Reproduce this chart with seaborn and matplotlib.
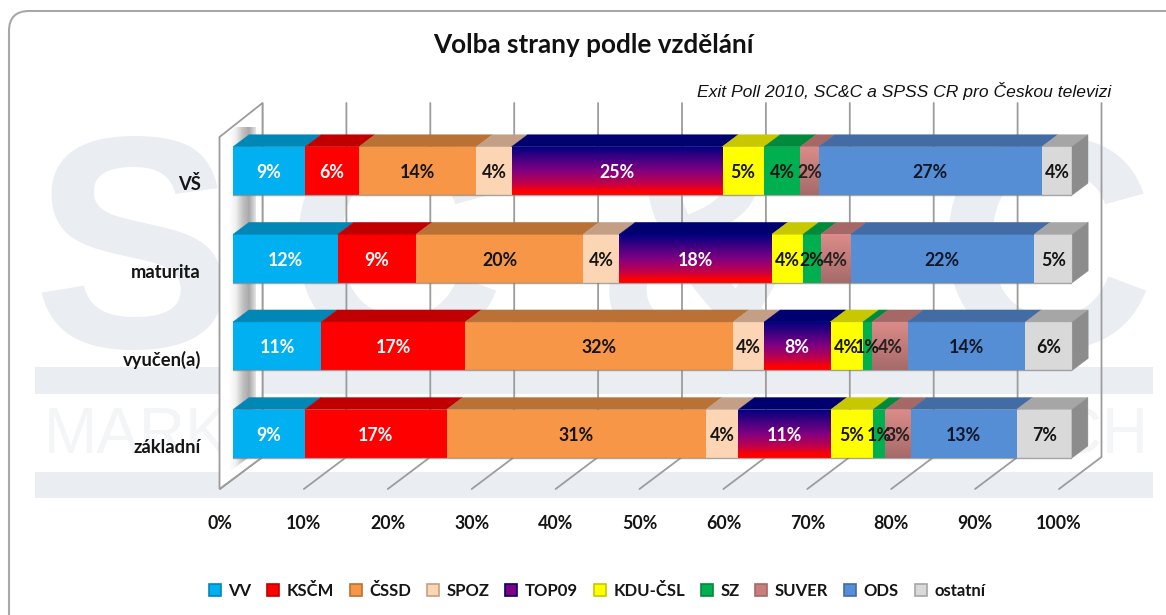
import numpy as np
import matplotlib
matplotlib.use('Agg')
import matplotlib.pyplot as plt
from matplotlib.colors import LinearSegmentedColormap
from matplotlib.patches import FancyBboxPatch, Patch, Polygon, Rectangle
import seaborn as sns

levels = ['VŠ', 'maturita', 'vyučen(a)', 'základní']
parties = ['VV', 'KSČM', 'ČSSD', 'SPOZ', 'TOP09', 'KDU-ČSL', 'SZ', 'SUVER', 'ODS', 'ostatní']

# share of each party per education level, read from the segment edges
vv = [8.6, 12.48, 10.52, 8.55]
kscm = [6.4, 9.33, 17.16, 16.9]
cssd = [14.0, 19.9, 31.9, 30.9]
spoz = [4.2, 4.33, 3.73, 3.9]
top09 = [25.1, 18.16, 7.87, 11.0]
kdu = [5.0, 3.73, 3.9, 5.04]
sz = [4.3, 2.11, 1.11, 1.48]
suver = [2.2, 3.55, 4.2, 3.02]
ods = [26.6, 21.9, 14.06, 12.6]
ostatni = [3.6, 4.53, 5.57, 6.6]
series = [vv, kscm, cssd, spoz, top09, kdu, sz, suver, ods, ostatni]

x_ticks = [0, 10, 20, 30, 40, 50, 60, 70, 80, 90, 100]

front_colors = ['#00b0f0', '#ff0000', '#f79646', '#fcd5b4', '#800080', '#ffff00',
                '#00b050', '#c77f7d', '#558ed5', '#d9d9d9']
top_colors = ['#0087b5', '#c00000', '#b97135', '#c3a085', '#00006e', '#c8c800',
              '#008a3e', '#a56866', '#426ca3', '#a6a6a6']
label_colors = ['white', 'white', '#151515', '#151515', 'white', '#151515',
                '#151515', '#2a2020', '#10182a', '#151515']
WATERMARK = '#eaeef3'
GRID = '#9c9c9c'

W, H = 1166, 615
# pixel box of the front plane: 0-100 % on x, four category rows on y
LEFT, RIGHT = 233, 1072
TOP, BOTTOM = 127.2, 477.6
AX_LEFT = 212  # the axes start a bit left of 0 % so the shifted 0% tick label survives
PX_PCT = (RIGHT - LEFT) / 100
PX_ROW = (BOTTOM - TOP) / 4


def to_x(px):
    return (px - LEFT) / PX_PCT


def to_y(py):
    return (py - TOP) / PX_ROW - 0.5


sns.set_theme(style='white')
plt.rcParams['font.family'] = ['Lato', 'DejaVu Sans']

fig = plt.figure(figsize=(W / 100, H / 100), dpi=100, facecolor='white')

# background layer in pixels: frame and SC&C watermark
bg = fig.add_axes([0, 0, 1, 1])
bg.set_xlim(0, W)
bg.set_ylim(H, 0)
bg.axis('off')
bg.add_patch(FancyBboxPatch((9, 11), W + 60, H + 10, boxstyle='round,pad=0,rounding_size=20',
                            fc='white', ec='#a8a8a8', lw=1.5))
for letter, xc in zip('SC&C', [133, 395, 705, 1045]):
    bg.text(xc, 237, letter, color=WATERMARK, fontsize=218, fontweight='bold',
            family='Liberation Sans', ha='center', va='center_baseline')
bg.add_patch(Rectangle((35, 367), 1118, 27, fc=WATERMARK, ec='none'))
bg.add_patch(Rectangle((35, 472), 1118, 26, fc=WATERMARK, ec='none'))
bg.text(44, 436, 'MARKET', color='#f4f5f7', fontsize=46, family='Liberation Sans', ha='left', va='center')
bg.text(1149, 436, 'RESEARCH', color='#f4f5f7', fontsize=46, family='Liberation Sans', ha='right', va='center')

bg.text(593, 45, 'Volba strany podle vzdělání', fontsize=18.8, fontweight='bold',
        color='#111111', ha='center', va='center')
bg.text(1111, 91, 'Exit Poll 2010, SC&C a SPSS CR pro Českou televizi', fontsize=12.6,
        style='italic', family='Liberation Sans', color='#111111', ha='right', va='center')

ax = fig.add_axes([AX_LEFT / W, 1 - BOTTOM / H, (RIGHT - AX_LEFT) / W, (BOTTOM - TOP) / H])
ax.patch.set_alpha(0)

# stacked bars
lefts = np.zeros(len(levels))
segments = []
for name, vals, color in zip(parties, series, front_colors):
    sns.barplot(x=vals, y=levels, left=lefts, color=color, saturation=1, width=48.5 / PX_ROW,
                orient='h', errorbar=None, ax=ax, zorder=3, linewidth=0)
    segments.append(ax.containers[-1])
    lefts = lefts + np.array(vals)

depth_x = 16 / PX_PCT
depth_y = 12 / PX_ROW

# grid on the back wall and floor
back_shift = to_x(262.5)
front_shift = to_x(220)
top_y, back_floor, front_floor = to_y(103), to_y(457), to_y(489)
for t in x_ticks:
    ax.plot([t + back_shift, t + back_shift, t + front_shift], [top_y, back_floor, front_floor],
            color=GRID, lw=1.3, clip_on=False, zorder=1)

# side wall with its soft grey shading
wall = Polygon([(to_x(219.5), to_y(137)), (to_x(262.5), to_y(103)), (to_x(262.5), back_floor),
                (to_x(219.5), front_floor)], closed=True, fc='white', ec=GRID, lw=1.3,
               clip_on=False, zorder=1.2)
ax.add_patch(wall)
wall_cmap = LinearSegmentedColormap.from_list('wall', ['#ffffff', '#f0f0f0', '#c4c4c4', '#a8a8a8', '#e4e4e4'])
shade_clip = Polygon([(to_x(229), to_y(132)), (to_x(256), to_y(112)), (to_x(256), to_y(452)),
                      (to_x(229), to_y(472))], closed=True, transform=ax.transData)
shade = ax.imshow(np.linspace(0, 1, 64).reshape(1, -1), cmap=wall_cmap, aspect='auto',
                  extent=(to_x(229), to_x(256), to_y(480), to_y(100)), zorder=1.3)
shade.set_clip_path(shade_clip)

# 3D faces of the bars, gradients and value labels
top09_cmap = LinearSegmentedColormap.from_list('top09', [(0, '#000080'), (0.5, '#800082'), (0.78, '#c40048'), (0.93, '#ff0000'), (1, '#ff0000')])
suver_cmap = LinearSegmentedColormap.from_list('suver', ['#dc8c8a', '#a56b69'])
gradients = {'TOP09': top09_cmap, 'SUVER': suver_cmap}
for name, container, vals, tc, lc in zip(parties, segments, series, top_colors, label_colors):
    for bar, v in zip(container.patches, vals):
        x0, y0, w, h = bar.get_x(), bar.get_y(), bar.get_width(), bar.get_height()
        ax.add_patch(Polygon([(x0, y0), (x0 + w, y0), (x0 + w + depth_x, y0 - depth_y), (x0 + depth_x, y0 - depth_y)],
                             closed=True, fc=tc, ec=tc, lw=0.3, clip_on=False, zorder=3))
        if name in gradients:
            grad = ax.imshow(np.linspace(0, 1, 64).reshape(-1, 1), cmap=gradients[name], aspect='auto',
                             extent=(x0, x0 + w, y0 + h, y0), zorder=3.1)
            grad.set_clip_path(bar)
        if name == 'ostatní':
            ax.add_patch(Polygon([(x0 + w, y0), (x0 + w + depth_x, y0 - depth_y),
                                  (x0 + w + depth_x, y0 + h - depth_y), (x0 + w, y0 + h)],
                                 closed=True, fc='#8c8c8c', ec='#8c8c8c', lw=0.3, clip_on=False, zorder=3))
        ax.text(x0 + w / 2, y0 + h / 2 + 0.02, f'{v:.0f}%', color=lc, fontsize=12.8, fontweight='bold',
                ha='center', va='center', zorder=4, clip_on=False)

# thin dark line under the bars
for i in range(len(levels)):
    bar = segments[0].patches[i]
    ax.plot([0, 100], [bar.get_y() + bar.get_height()] * 2, color='#808080', alpha=0.7, lw=1, zorder=3.5)

ax.set_xticks([t + front_shift for t in x_ticks])
ax.set_xticklabels([f'{t}%' for t in x_ticks], fontsize=12.8, fontweight='bold', color='#151515')
ax.set_yticks([i + 12 / PX_ROW for i in range(len(levels))])
ax.set_yticklabels(levels, fontsize=13.2, fontweight='bold', color='#151515')
ax.tick_params(axis='x', length=0, pad=27)
ax.tick_params(axis='y', length=0, pad=8)
ax.set_xlabel('')
ax.set_ylabel('')
# ticks sit outside the front plane, so the limits go last
ax.set_xlim(to_x(AX_LEFT), 100)
ax.set_ylim(3.5, -0.5)
sns.despine(ax=ax, left=True, bottom=True)

handles = [Patch(fc=c, ec=t, lw=1.2) for c, t in zip(front_colors, top_colors)]
leg = ax.legend(handles, parties, ncol=10, frameon=False, fontsize=12, handlelength=0.72, handleheight=0.72,
                handletextpad=0.45, columnspacing=0.95, borderpad=0, borderaxespad=0,
                loc='center', bbox_to_anchor=(597 / W, 1 - 591 / H), bbox_transform=fig.transFigure)
for txt in leg.get_texts():
    txt.set_fontweight('bold')
    txt.set_color('#151515')

fig.savefig('out.png', dpi=100, facecolor='white')
